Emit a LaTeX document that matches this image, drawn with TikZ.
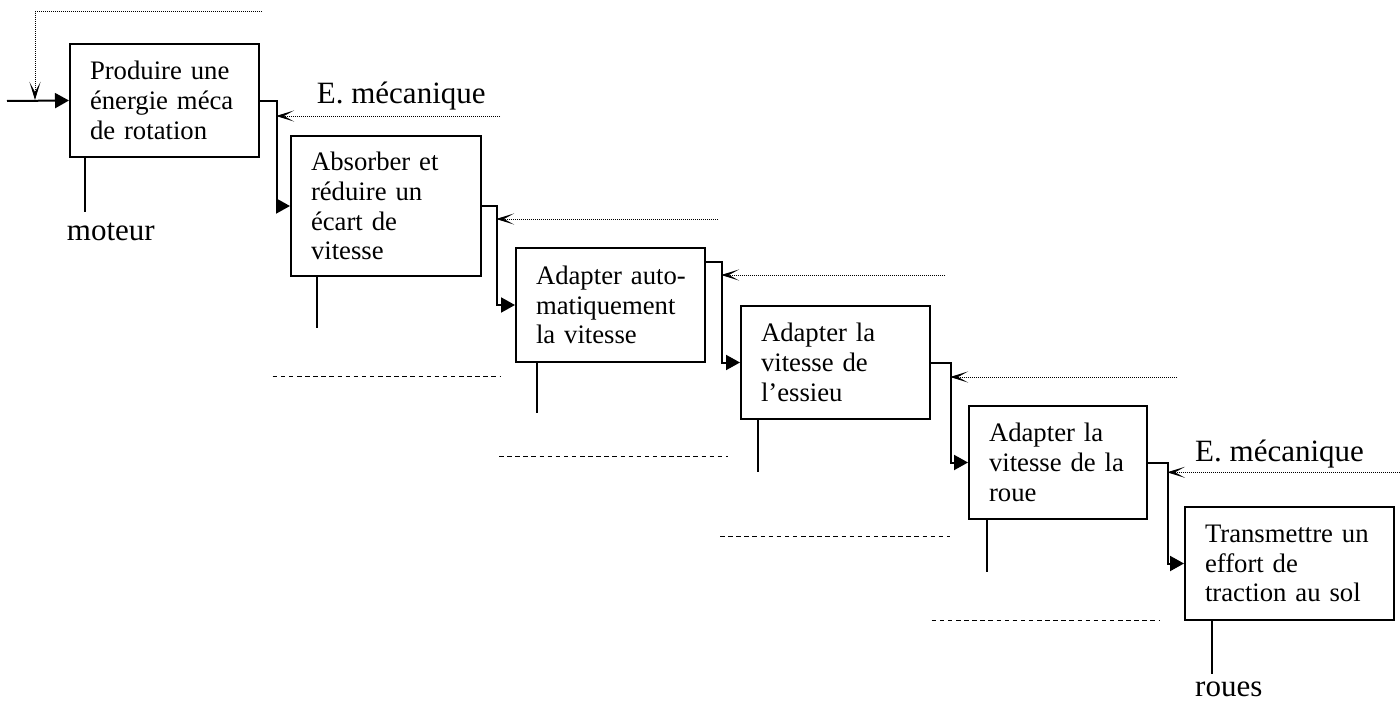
\documentclass[tikz,border=0pt]{standalone}
\usepackage{fontspec}
\setmainfont{Liberation Serif}
\usetikzlibrary{arrows.meta,calc}
\begin{document}
\begin{tikzpicture}[x=1pt,y=-1pt,
  box/.style={draw, line width=2pt, rectangle, inner xsep=20pt, inner ysep=0pt, align=left, font=\fontsize{26.7}{29.8}\selectfont},
  conn/.style={line width=2pt, -{Triangle[length=14pt,width=15pt]}},
  fb/.style={densely dotted, line width=1pt, -{Stealth[length=18pt,width=11pt,inset=10pt,line width=1.3pt]}},
  mech/.style={line width=2pt},
  sep/.style={dash pattern=on 4.5pt off 3.6pt, line width=1pt},
  lab/.style={font=\fontsize{31}{36}\selectfont, inner sep=0pt, anchor=base west}]
\useasboundingbox (0,0) rectangle (1400,701);

% boxes
\node[box, text width=149pt, minimum height=113pt] (b1) at (164.5,100.5) {Produire une\\énergie méca\\de rotation};
\node[box, text width=150pt, minimum height=140pt] (b2) at (386,206) {Absorber et\\réduire un\\écart de\\vitesse};
\node[box, text width=149pt, minimum height=114pt] (b3) at (610.5,305) {\mbox{Adapter auto-}\\matiquement\\la vitesse};
\node[box, text width=149pt, minimum height=113pt] (b4) at (835.5,362.5) {Adapter la\\vitesse de\\l’essieu};
\node[box, text width=138pt, minimum height=113pt] (b5) at (1058,462.5) {Adapter la\\\mbox{vitesse de la}\\roue};
\node[box, text width=169pt, minimum height=113pt] (b6) at (1289.5,563.5) {\mbox{Transmettre un}\\effort de\\\mbox{traction au sol}};

% labels
\node[lab] (e1) at (316.7,103.3) {E. mécanique};
\node[lab] (e2) at (1195,461.7) {E. mécanique};
\node[lab] (mot) at (66.7,240.7) {moteur};
\node[lab] (rou) at (1195,696.7) {roues};

% input
\coordinate (in0) at (7,101);
\draw[conn] (in0) -- (b1.west);

% main connectors
\draw[conn] (b1.east) -- ++(17,0) |- (b2.west);
\draw[conn] (b2.east) -- ++(15,0) |- (b3.west);
\draw[conn] ([yshift=-15.3pt]b3.north east) -- ++(16,0) |- (b4.west);
\draw[conn] (b4.east) -- ++(20,0) |- (b5.west);
\draw[conn] (b5.east) -- ++(20,0) |- (b6.west);

% feedback (dotted)
\coordinate (t0) at (262,12); \coordinate (j0) at (35,100);
\draw[fb] (t0) -| (j0);
\coordinate (s1) at (500,116);   \coordinate (j1) at (276,116);
\coordinate (s2) at (718,219);   \coordinate (j2) at (496,219);
\coordinate (s3) at (945,275);   \coordinate (j3) at (721,275);
\coordinate (s4) at (1177,377);  \coordinate (j4) at (950,377);
\coordinate (s5) at (1400,472.3); \coordinate (j5) at (1167,472.3);
\draw[fb] (s1) -- (j1);
\draw[fb] (s2) -- (j2);
\draw[fb] (s3) -- (j3);
\draw[fb] (s4) -- (j4);
\draw[fb] (s5) -- (j5);

% mechanism lines
\coordinate (m1) at (85,212);
\coordinate (m2) at (316.7,327.7);
\coordinate (m3) at (536.7,413);
\coordinate (m4) at (758,472);
\coordinate (m5) at (987.3,571.7);
\coordinate (m6) at (1212.3,674);
\draw[mech] (b1.south -| m1) -- (m1);
\draw[mech] (b2.south -| m2) -- (m2);
\draw[mech] (b3.south -| m3) -- (m3);
\draw[mech] (b4.south -| m4) -- (m4);
\draw[mech] (b5.south -| m5) -- (m5);
\draw[mech] (b6.south -| m6) -- (m6);

% dashed separators
\coordinate (d1a) at (272.7,376);  \coordinate (d1b) at (500.7,376);
\coordinate (d2a) at (499,456.7);  \coordinate (d2b) at (728,456.7);
\coordinate (d3a) at (720,536.7);  \coordinate (d3b) at (949.5,536.7);
\coordinate (d4a) at (931.7,620);  \coordinate (d4b) at (1159,620);
\draw[sep] (d1a) -- (d1b);
\draw[sep] (d2a) -- (d2b);
\draw[sep] (d3a) -- (d3b);
\draw[sep] (d4a) -- (d4b);
\end{tikzpicture}
\end{document}
